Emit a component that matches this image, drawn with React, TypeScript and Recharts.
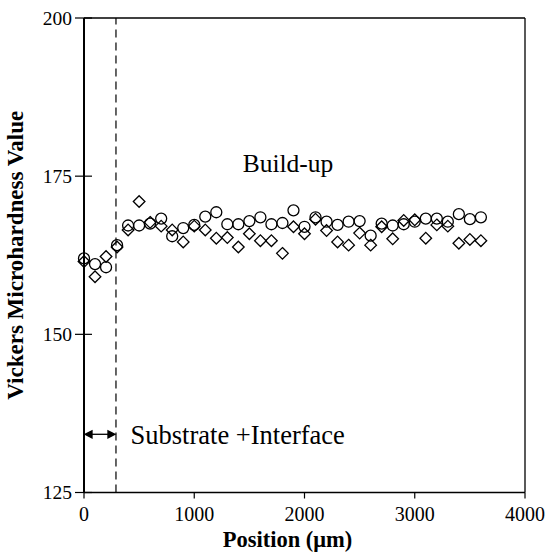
import { ScatterChart, Scatter, XAxis, YAxis, ReferenceLine, ReferenceDot, Label } from 'recharts'

// traverse positions (µm)
const positions = [
  0, 100, 200, 300, 400, 500, 600, 700, 800, 900, 1000, 1100, 1200, 1300, 1400, 1500, 1600, 1700, 1800,
  1900, 2000, 2100, 2200, 2300, 2400, 2500, 2600, 2700, 2800, 2900, 3000, 3100, 3200, 3300, 3400, 3500, 3600,
]

// circles
const hardnessA = [
  162.0, 161.1, 160.6, 164.1, 167.2, 167.2, 167.5, 168.3, 165.5, 166.8, 167.3, 168.6, 169.3, 167.4, 167.4,
  167.9, 168.5, 167.4, 167.6, 169.6, 167.0, 168.5, 167.8, 167.3, 167.8, 167.9, 165.6, 167.5, 167.2, 167.4,
  167.8, 168.3, 168.3, 167.8, 169.0, 168.2, 168.5,
]

// diamonds
const hardnessB = [
  161.5, 159.1, 162.3, 163.8, 166.5, 171.0, 167.7, 167.1, 166.5, 164.6, 167.1, 166.5, 165.2, 165.3, 163.8,
  165.9, 164.8, 164.8, 162.8, 167.0, 165.9, 168.2, 166.4, 164.6, 164.1, 166.0, 164.1, 167.0, 165.1, 168.0,
  168.1, 165.2, 167.3, 167.1, 164.4, 165.0, 164.8,
]

const xTicks = [0, 1000, 2000, 3000, 4000]
const yTicks = [125, 150, 175, 200]

const interfaceEdge = 290
const arrowLevel = 134.2

const seriesA = positions.map((x, i) => ({ x, y: hardnessA[i] }))
const seriesB = positions.map((x, i) => ({ x, y: hardnessB[i] }))

const serif = "'Liberation Serif', 'Times New Roman', Times, serif"

const OpenCircle = (props: any) => (
  <circle cx={props.cx} cy={props.cy} r={5.5} fill="none" stroke="#000" strokeWidth={1.3} />
)

const OpenDiamond = (props: any) => {
  const { cx, cy } = props
  const d = 5.8
  return (
    <polygon
      points={`${cx},${cy - d} ${cx + d},${cy} ${cx},${cy + d} ${cx - d},${cy}`}
      fill="none"
      stroke="#000"
      strokeWidth={1.3}
    />
  )
}

// y tick: label plus a tick mark crossing the axis line
const TICK_OUT = 9
const TICK_IN = 8
const TICK_GAP = 3
const YTick = (props: any) => {
  const { x, y, payload } = props
  const axisX = x + TICK_GAP + TICK_OUT
  return (
    <g>
      <line x1={axisX - TICK_OUT} y1={y} x2={axisX + TICK_IN} y2={y} stroke="#000" strokeWidth={1.2} />
      <text
        x={x}
        y={y}
        textAnchor="end"
        dominantBaseline="central"
        fontFamily={serif}
        fontSize={19.5}
        fill="#000"
      >
        {payload.value}
      </text>
    </g>
  )
}

// double-headed arrow spanning the substrate zone
const DoubleArrow = (props: any) => {
  const { x1, y1, x2 } = props
  const h = 3.6
  const a = 8
  return (
    <g stroke="#000" strokeWidth={1.3} fill="#000">
      <line x1={x1 + 2} y1={y1} x2={x2 - 2} y2={y1} />
      <polygon points={`${x1 + 1},${y1} ${x1 + a},${y1 - h} ${x1 + a},${y1 + h}`} />
      <polygon points={`${x2 - 1},${y1} ${x2 - a},${y1 - h} ${x2 - a},${y1 + h}`} />
    </g>
  )
}

const YTitle = (props: any) => {
  const vb = props.viewBox
  const x = vb.x + 15
  const y = vb.y + vb.height / 2
  return (
    <text
      x={x}
      y={y}
      transform={`rotate(-90 ${x} ${y})`}
      textAnchor="middle"
      dominantBaseline="central"
      fontFamily={serif}
      fontWeight="bold"
      fontSize={23}
      fill="#000"
    >
      Vickers Microhardness Value
    </text>
  )
}

export default function App() {
  return (
    <div style={{ position: 'absolute', left: 0, top: 0, background: '#fff' }}>
      <ScatterChart width={547} height={552} margin={{ top: 18, right: 22, bottom: 0, left: 0 }}>
        <XAxis
          dataKey="x"
          type="number"
          domain={[0, 4000]}
          ticks={xTicks}
          height={59.5}
          tickSize={6}
          tickMargin={8}
          axisLine={{ stroke: '#000', strokeWidth: 1.3 }}
          tickLine={{ stroke: '#000', strokeWidth: 1.2 }}
          tick={{ fill: '#000', fontSize: 20, fontFamily: serif }}
        >
          <Label
            value="Position (μm)"
            position="insideBottom"
            offset={5}
            dx={-17}
            style={{ fontFamily: serif, fontWeight: 'bold', fontSize: 22.5, fill: '#000' }}
          />
        </XAxis>
        <YAxis
          dataKey="y"
          type="number"
          domain={[125, 200]}
          ticks={yTicks}
          width={84}
          tickSize={TICK_OUT}
          tickMargin={TICK_GAP}
          axisLine={{ stroke: '#000', strokeWidth: 2 }}
          tickLine={false}
          tick={YTick}
        >
          <Label content={YTitle} />
        </YAxis>
        <ReferenceLine y={200} stroke="#000" strokeWidth={1.3} />
        <ReferenceLine x={4000} stroke="#000" strokeWidth={1.3} />
        <ReferenceLine x={interfaceEdge} stroke="#000" strokeWidth={1.2} strokeDasharray="8 5" />
        <ReferenceLine
          segment={[
            { x: 0, y: arrowLevel },
            { x: interfaceEdge, y: arrowLevel },
          ]}
          shape={DoubleArrow}
        />
        <ReferenceDot
          x={1850}
          y={177.1}
          r={0}
          stroke="none"
          fill="none"
          label={{ value: 'Build-up', position: 'center', fontSize: 25.5, fontFamily: serif, fill: '#000' }}
        />
        <ReferenceDot
          x={422}
          y={arrowLevel}
          r={0}
          stroke="none"
          fill="none"
          label={{ value: 'Substrate +Interface', position: 'right', offset: 0, fontSize: 26.5, fontFamily: serif, fill: '#000' }}
        />
        <Scatter data={seriesA} shape={OpenCircle} isAnimationActive={false} />
        <Scatter data={seriesB} shape={OpenDiamond} isAnimationActive={false} />
      </ScatterChart>
    </div>
  )
}
